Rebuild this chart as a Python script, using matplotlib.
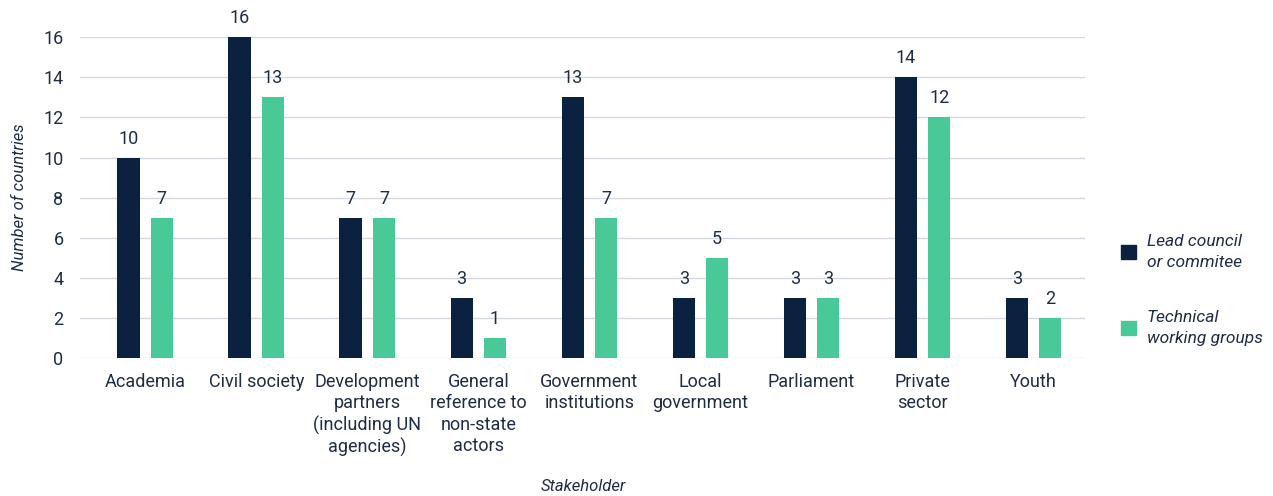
import numpy as np
import matplotlib.pyplot as plt
from matplotlib.patches import Patch

# data
categories = ["Academia", "Civil society", "Development\npartners\n(including UN\nagencies)",
              "General\nreference to\nnon-state\nactors", "Government\ninstitutions",
              "Local\ngovernment", "Parliament", "Private\nsector", "Youth"]
lead_council = [10, 16, 7, 3, 13, 3, 3, 14, 3]
working_groups = [7, 13, 7, 1, 7, 5, 3, 12, 2]
series_names = ["Lead council\nor commitee", "Technical\nworking groups"]

dark = "#0a2240"
green = "#48c997"
text_col = "#1f2d44"
grid_col = "#d3d8de"

plt.rcParams['font.family'] = ['Roboto', 'DejaVu Sans']

fig = plt.figure(figsize=(12.73, 4.96), dpi=100)
ax = fig.add_axes([0.063, 0.278, 0.789, 0.647])

x = np.arange(len(categories))
w = 0.2
b1 = ax.bar(x - 0.15, lead_council, w, color=dark, zorder=3)
b2 = ax.bar(x + 0.15, working_groups, w, color=green, zorder=3)

for bars, vals in [(b1, lead_council), (b2, working_groups)]:
    for rect, v in zip(bars, vals):
        ax.text(rect.get_x() + rect.get_width() / 2, v + 0.5, str(v),
                ha="center", va="bottom", fontsize=13, color=text_col)

ax.set_xlim(-0.585, 8.46)
ax.set_ylim(0, 16)
ax.set_yticks(range(0, 17, 2))
ax.grid(axis="y", color=grid_col, linewidth=1, zorder=0)
ax.set_xticks(x)
ax.set_xticklabels(categories, fontsize=13, color=text_col, linespacing=1.22)
ax.tick_params(axis="both", length=0, labelsize=13, colors=text_col)
ax.tick_params(axis="x", pad=11)
ax.tick_params(axis="y", pad=12)
for s in ax.spines.values():
    s.set_visible(False)
ax.set_axisbelow(True)

ax.set_ylabel("Number of countries", fontsize=12, style="italic", color=text_col, labelpad=12)
fig.text(0.458, 0.01, "Stakeholder", fontsize=12, style="italic", color=text_col, ha="center")

handles = [Patch(color=dark), Patch(color=green)]
leg = fig.legend(handles, series_names, loc="center left", bbox_to_anchor=(0.868, 0.415),
                 frameon=False, prop={"style": "italic", "size": 12.5}, labelcolor=text_col,
                 handlelength=0.9, handleheight=0.9, handletextpad=0.6, labelspacing=2.3)
for t in leg.get_texts():
    t.set_linespacing(1.5)

fig.savefig("out.png", dpi=100)
